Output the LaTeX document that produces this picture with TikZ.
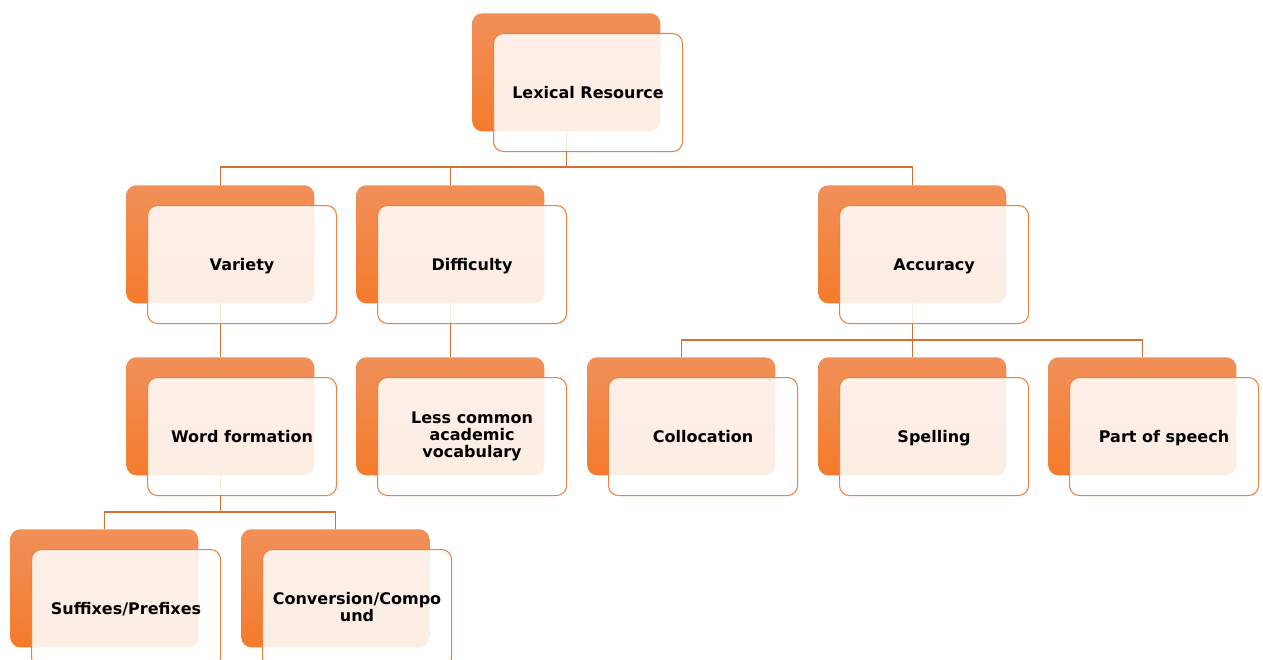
\documentclass[tikz,border=0pt]{standalone}
\usepackage{fontspec}
\setmainfont{DejaVu Sans}
\definecolor{lrink}{HTML}{000000}
\definecolor{lrtop}{HTML}{F09059}
\definecolor{lrbottom}{HTML}{F47B2B}
\definecolor{lredge}{HTML}{EE8240}
\definecolor{lrlink}{HTML}{D27036}
\tikzset{
  lr back/.style={anchor=north west, rounded corners=7.5pt, top color=lrtop,
    bottom color=lrbottom, minimum width=141pt, minimum height=88.5pt, inner sep=0pt},
  lr front/.style={anchor=north west, draw=lredge, line width=0.8pt, rounded corners=7.5pt,
    fill=white, fill opacity=0.87, text opacity=1, minimum width=141.75pt,
    minimum height=88.5pt, align=center, inner sep=2pt, text=lrink,
    font=\bfseries\fontsize{12}{12.5}\selectfont,
    execute at begin node={\rule[-2.8pt]{0pt}{14.1pt}}},
  lr link/.style={draw=lrlink, line width=0.8pt}
}

\begin{document}
\begin{tikzpicture}[x=0.75pt, y=-0.75pt]
  \useasboundingbox (0,0) rectangle (1263,660);
  % back boxes
  \node[lr back] (rootb) at (472,13) {};
  \node[lr back] (varb) at (126,185) {};
  \node[lr back] (difb) at (356,185) {};
  \node[lr back] (accb) at (818,185) {};
  \node[lr back] (wfb) at (126,357) {};
  \node[lr back] (lcb) at (356,357) {};
  \node[lr back] (colb) at (587,357) {};
  \node[lr back] (spb) at (818,357) {};
  \node[lr back] (posb) at (1048,357) {};
  \node[lr back] (sufb) at (10,529) {};
  \node[lr back] (conb) at (241,529) {};
  % connectors
  \coordinate (bus1) at (0,167);
  \coordinate (bus2) at (0,340);
  \coordinate (bus3) at (0,512);
  \draw[lr link] (rootb.south) -- (rootb.south |- bus1) -| (varb.north);
  \draw[lr link] (rootb.south |- bus1) -| (difb.north);
  \draw[lr link] (rootb.south |- bus1) -| (accb.north);
  \draw[lr link] (varb.south) -- (wfb.north);
  \draw[lr link] (difb.south) -- (lcb.north);
  \draw[lr link] (accb.south) -- (accb.south |- bus2) -| (colb.north);
  \draw[lr link] (accb.south |- bus2) -| (spb.north);
  \draw[lr link] (accb.south |- bus2) -| (posb.north);
  \draw[lr link] (wfb.south) -- (wfb.south |- bus3) -| (sufb.north);
  \draw[lr link] (wfb.south |- bus3) -| (conb.north);
  % front boxes
  \node[lr front] (root) at ([shift={(21,20)}]rootb.north west) {Lexical Resource};
  \node[lr front] (var) at ([shift={(21,20)}]varb.north west) {Variety};
  \node[lr front] (dif) at ([shift={(21,20)}]difb.north west) {Difficulty};
  \node[lr front] (acc) at ([shift={(21,20)}]accb.north west) {Accuracy};
  \node[lr front] (wf) at ([shift={(21,20)}]wfb.north west) {Word formation};
  \node[lr front] (lc) at ([shift={(21,20)}]lcb.north west) {Less common\\academic\\vocabulary};
  \node[lr front] (col) at ([shift={(21,20)}]colb.north west) {Collocation};
  \node[lr front] (sp) at ([shift={(21,20)}]spb.north west) {Spelling};
  \node[lr front] (pos) at ([shift={(21,20)}]posb.north west) {Part of speech};
  \node[lr front] (suf) at ([shift={(21,20)}]sufb.north west) {Suffixes/Prefixes};
  \node[lr front] (con) at ([shift={(21,20)}]conb.north west) {Conversion/Compo\\und};
\end{tikzpicture}
\end{document}
